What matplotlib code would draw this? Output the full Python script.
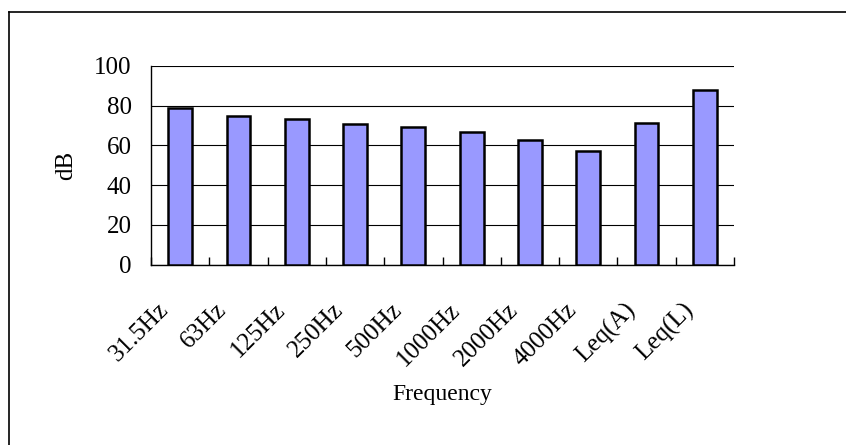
import matplotlib
matplotlib.use("Agg")
import matplotlib.pyplot as plt
from matplotlib.transforms import ScaledTranslation

# Noise measurement levels per band
categories = ["31.5Hz", "63Hz", "125Hz", "250Hz", "500Hz", "1000Hz",
              "2000Hz", "4000Hz", "Leq(A)", "Leq(L)"]
levels = [78.7, 74.9, 73.3, 70.6, 69.2, 66.6, 62.7, 57.1, 71.3, 87.7]
y_ticks = [0, 20, 40, 60, 80, 100]

plt.rcParams['font.family'] = ['Liberation Serif', 'DejaVu Serif']

fig = plt.figure(figsize=(8.46, 4.45), dpi=100)
ax = fig.add_axes([0.1785, 0.4056, 0.6891, 0.4461])

x = list(range(len(categories)))
ax.bar(x, levels, width=0.41, color='#9999FF', edgecolor='black',
       linewidth=1.8, zorder=3)

ax.set_xlim(-0.5, len(categories) - 0.5)
ax.set_ylim(0, 100)
ax.set_yticks(y_ticks)
ax.yaxis.grid(True, color='black', linewidth=0.8, zorder=0)

for s in ['top', 'right']:
    ax.spines[s].set_visible(False)
ax.spines['left'].set_linewidth(1.0)
ax.spines['bottom'].set_linewidth(1.0)

# ticks between categories, pointing into the plot
ax.set_xticks(x)
ax.set_xticks([i - 0.5 for i in range(len(categories) + 1)], minor=True)
ax.tick_params(axis='x', which='minor', direction='in', length=6, width=1)
ax.tick_params(axis='x', which='major', length=0, pad=0, labelsize=18)
ax.tick_params(axis='y', length=0, pad=14, labelsize=18)

ax.set_xticklabels(categories, rotation=45, ha='right', rotation_mode='anchor')
off = ScaledTranslation(-0.23, -0.34, fig.dpi_scale_trans)
for lab in ax.get_xticklabels():
    lab.set_transform(lab.get_transform() + off)

ax.set_xlabel("Frequency", fontsize=17, va='center')
ax.xaxis.set_label_coords(0.5, -0.657)
ax.set_ylabel("dB", fontsize=18, va='center')
ax.yaxis.set_label_coords(-0.145, 0.5)

# outer chart border
fig.add_artist(plt.Line2D([9 / 846, 9 / 846], [0, 1 - 12 / 445],
                          transform=fig.transFigure, color='black', lw=1.2))
fig.add_artist(plt.Line2D([9 / 846, 1], [1 - 12 / 445, 1 - 12 / 445],
                          transform=fig.transFigure, color='black', lw=1.2))

fig.savefig("out.png", dpi=100)
